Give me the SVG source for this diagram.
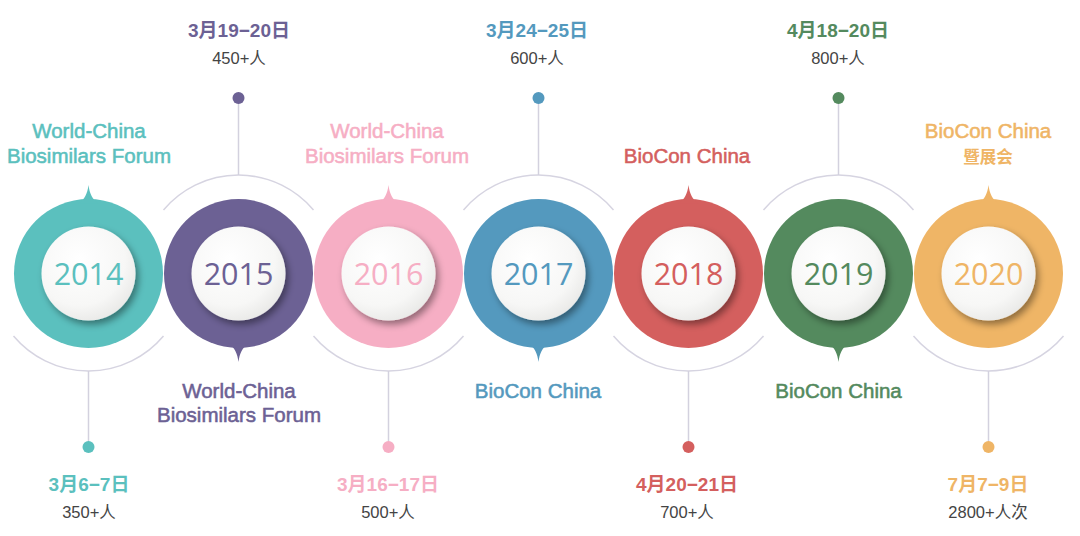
<svg xmlns="http://www.w3.org/2000/svg" width="1080" height="536" viewBox="0 0 1080 536">
<defs>
<radialGradient id="wg" cx="40%" cy="35%" r="70%">
<stop offset="0" stop-color="#ffffff"/>
<stop offset="0.7" stop-color="#f7f7f6"/>
<stop offset="1" stop-color="#e8e8e6"/>
</radialGradient>
<filter id="sh" x="-30%" y="-30%" width="170%" height="170%">
<feDropShadow dx="3" dy="4" stdDeviation="3.5" flood-color="#000" flood-opacity="0.4"/>
</filter>
<path id="ptr" d="M-10,-70 C-4,-74 -1,-80 0,-88.5 C1,-80 4,-74 10,-70 Z"/>
</defs>
<style>
.arc{fill:none;stroke:#d6d4e1;stroke-width:1.5}
.vl{stroke:#d3d1de;stroke-width:1.5}
.inner{fill:url(#wg);filter:url(#sh)}
.yr{font-family:"Open Sans","Liberation Sans",sans-serif;font-size:30.5px;text-anchor:middle}
.lb{font-family:"Liberation Sans",Arial,sans-serif;font-size:20.5px;text-anchor:middle;stroke-width:0.55}
.dt{font-family:"Liberation Sans","Noto Sans CJK SC",sans-serif;font-size:19px;font-weight:bold;text-anchor:middle}
.ct{font-family:"Liberation Sans","Noto Sans CJK SC",sans-serif;font-size:16.5px;fill:#444;text-anchor:middle}
.cn{font-family:"Noto Sans CJK SC",sans-serif;font-size:16.5px;font-weight:bold;text-anchor:middle}
</style>
<g id="connectors">
<path class="arc" d="M13.5,336 A98 98 0 0 0 163.5,336"/>
<path class="arc" d="M163.5,210 A98 98 0 0 1 313.5,210"/>
<path class="arc" d="M313.5,336 A98 98 0 0 0 463.5,336"/>
<path class="arc" d="M463.5,210 A98 98 0 0 1 613.5,210"/>
<path class="arc" d="M613.5,336 A98 98 0 0 0 763.5,336"/>
<path class="arc" d="M763.5,210 A98 98 0 0 1 913.5,210"/>
<path class="arc" d="M913.5,336 A98 98 0 0 0 1063.5,336"/>
<line class="vl" x1="88.5" y1="371" x2="88.5" y2="447"/>
<line class="vl" x1="238.5" y1="98" x2="238.5" y2="175"/>
<line class="vl" x1="388.5" y1="371" x2="388.5" y2="447"/>
<line class="vl" x1="538.5" y1="98" x2="538.5" y2="175"/>
<line class="vl" x1="688.5" y1="371" x2="688.5" y2="447"/>
<line class="vl" x1="838.5" y1="98" x2="838.5" y2="175"/>
<line class="vl" x1="988.5" y1="371" x2="988.5" y2="447"/>
<circle cx="88.5" cy="447" r="6" fill="#5bc0be"/>
<circle cx="238.5" cy="98" r="6" fill="#6c6194"/>
<circle cx="388.5" cy="447" r="6" fill="#f6aec4"/>
<circle cx="538.5" cy="98" r="6" fill="#5499be"/>
<circle cx="688.5" cy="447" r="6" fill="#d45f5e"/>
<circle cx="838.5" cy="98" r="6" fill="#548a5e"/>
<circle cx="988.5" cy="447" r="6" fill="#efb566"/>
</g>
<g id="n2014" fill="#5bc0be">
<g transform="translate(88.5,273.5)"><circle r="74.5"/><use href="#ptr"/><circle class="inner" r="47"/><text class="yr" y="11">2014</text></g>
<text class="lb" x="89" y="138" stroke="#5bc0be">World-China</text>
<text class="lb" x="89" y="163" stroke="#5bc0be">Biosimilars Forum</text>
<text class="dt" x="89" y="491">3月6−7日</text>
<text class="ct" x="89" y="518">350+人</text>
</g>
<g id="n2015" fill="#6c6194">
<g transform="translate(238.5,273.5)"><circle r="74.5"/><use href="#ptr" transform="rotate(180)"/><circle class="inner" r="47"/><text class="yr" y="11">2015</text></g>
<text class="lb" x="239" y="398" stroke="#6c6194">World-China</text>
<text class="lb" x="239" y="422" stroke="#6c6194">Biosimilars Forum</text>
<text class="dt" x="239" y="37">3月19−20日</text>
<text class="ct" x="239" y="64">450+人</text>
</g>
<g id="n2016" fill="#f6aec4">
<g transform="translate(388.5,273.5)"><circle r="74.5"/><use href="#ptr"/><circle class="inner" r="47"/><text class="yr" y="11">2016</text></g>
<text class="lb" x="387" y="138" stroke="#f6aec4">World-China</text>
<text class="lb" x="387" y="163" stroke="#f6aec4">Biosimilars Forum</text>
<text class="dt" x="388" y="491">3月16−17日</text>
<text class="ct" x="388" y="518">500+人</text>
</g>
<g id="n2017" fill="#5499be">
<g transform="translate(538.5,273.5)"><circle r="74.5"/><use href="#ptr" transform="rotate(180)"/><circle class="inner" r="47"/><text class="yr" y="11">2017</text></g>
<text class="lb" x="538" y="398" stroke="#5499be">BioCon China</text>
<text class="dt" x="537" y="37">3月24−25日</text>
<text class="ct" x="537" y="64">600+人</text>
</g>
<g id="n2018" fill="#d45f5e">
<g transform="translate(688.5,273.5)"><circle r="74.5"/><use href="#ptr"/><circle class="inner" r="47"/><text class="yr" y="11">2018</text></g>
<text class="lb" x="687" y="163" stroke="#d45f5e">BioCon China</text>
<text class="dt" x="687" y="491">4月20−21日</text>
<text class="ct" x="687" y="518">700+人</text>
</g>
<g id="n2019" fill="#548a5e">
<g transform="translate(838.5,273.5)"><circle r="74.5"/><use href="#ptr" transform="rotate(180)"/><circle class="inner" r="47"/><text class="yr" y="11">2019</text></g>
<text class="lb" x="838.5" y="398" stroke="#548a5e">BioCon China</text>
<text class="dt" x="838" y="37">4月18−20日</text>
<text class="ct" x="838" y="64">800+人</text>
</g>
<g id="n2020" fill="#efb566">
<g transform="translate(988.5,273.5)"><circle r="74.5"/><use href="#ptr"/><circle class="inner" r="47"/><text class="yr" y="11">2020</text></g>
<text class="lb" x="988" y="138" stroke="#efb566">BioCon China</text>
<text class="cn" x="988" y="163">暨展会</text>
<text class="dt" x="988" y="491">7月7−9日</text>
<text class="ct" x="988" y="518">2800+人次</text>
</g>
</svg>
